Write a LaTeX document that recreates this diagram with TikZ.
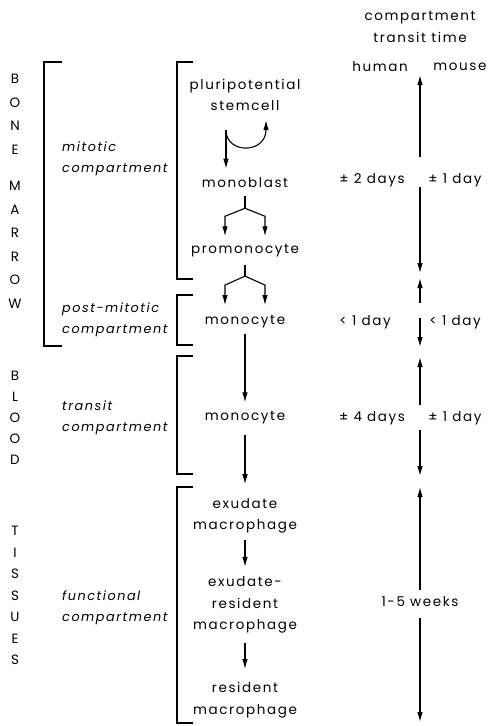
\documentclass[tikz,border=0pt]{standalone}
\usepackage{fontspec}
\setmainfont{Poppins}[LetterSpace=12]
\usetikzlibrary{arrows.meta}
\usetikzlibrary{calc}

\begin{document}
\begin{tikzpicture}[x=1pt,y=-1pt,
  every node/.style={inner sep=0pt,font=\fontsize{13.5}{21.5}\selectfont},
  cell/.style={align=center},
  comp/.style={anchor=west,align=left,font=\fontsize{12.8}{21}\selectfont\itshape},
  organ/.style={anchor=north,align=center},
  conn/.style={line width=1.1pt,-{Latex[length=10pt,width=5.5pt]}},
  stem/.style={line width=1.1pt},
  brk/.style={line width=1.4pt}]
\useasboundingbox (0,0) rectangle (491,726);

% organ columns
\node[organ,font=\fontsize{13.5}{23.5}\selectfont] (marrow) at (15,74) {B\\O\\N\\E\\[13pt]M\\A\\R\\R\\O\\W};
\node[organ,font=\fontsize{13.5}{21}\selectfont] (blood) at (15,371) {B\\L\\O\\O\\D};
\node[organ,font=\fontsize{13.5}{21.5}\selectfont] (tissues) at (15,526) {T\\I\\S\\S\\U\\E\\S};

% brackets
\draw[brk] (62,62) -- (44,62) -- (44,346) -- (62,346);
\foreach \t/\b in {62/279,295/345,356/474,487/723}
  \draw[brk] (193,\t) -- (177,\t) -- (177,\b) -- (193,\b);

% compartments
\node[comp] (mitotic) at (62,159) {mitotic\\compartment};
\node[comp] (postmit) at (62,320) {post-mitotic\\compartment};
\node[comp] (transit) at (62,418) {transit\\compartment};
\node[comp] (functional) at (62,608) {functional\\compartment};

% cells
\node[cell] (stemcell) at (245,95) {pluripotential\\stemcell};
\node[cell] (monoblast) at (245,183) {monoblast};
\node[cell] (promono) at (245,251) {promonocyte};
\node[cell] (monoA) at (245,322) {monocyte};
\node[cell] (monoB) at (245,418) {monocyte};
\node[cell] (exmac) at (245,516) {exudate\\macrophage};
\node[cell] (exresmac) at (245,605) {exudate-\\resident\\macrophage};
\node[cell] (resmac) at (245,700) {resident\\macrophage};

% self renewal
\coordinate (split) at ($(stemcell.south)+(-19,19)$);
\coordinate (renew) at ($(stemcell.south)+(21,9)$);
\draw[conn] (split) -- ($(monoblast.north)+(-19,-9)$);
\draw[conn] (split) .. controls +(0,24) and +(0,34) .. (renew);

% divisions
\coordinate (fork1) at ($(monoblast.south)+(0,20)$);
\draw[stem] ($(monoblast.south)+(0,8)$) -- (fork1);
\draw[conn] (fork1) -- ++(-20,8) -- ++(0,20);
\draw[conn] (fork1) -- ++(20,8) -- ++(0,20);
\coordinate (fork2) at ($(promono.south)+(0,18.5)$);
\draw[stem] ($(promono.south)+(0,7.5)$) -- (fork2);
\draw[conn] (fork2) -- ++(-20,9) -- ++(0,20);
\draw[conn] (fork2) -- ++(20,9) -- ++(0,20);

% maturation
\draw[conn,shorten <=5pt,shorten >=9pt] (monoA) -- (monoB);
\draw[conn,shorten <=10pt,shorten >=14pt] (monoB) -- (exmac);
\draw[conn,shorten <=6.5pt,shorten >=9.5pt] (exmac) -- (exresmac);
\draw[conn,shorten <=9pt,shorten >=13pt] (exresmac) -- (resmac);

% transit times
\node[cell] (head) at (420,27) {compartment\\transit time};
\node (human) at (380,67) {human};
\node (mouse) at (460,67) {mouse};
\node (hum1) at (372,180) {± 2 days};
\node (mou1) at (455,180) {± 1 day};
\node (hum2) at (365,322) {< 1 day};
\node (mou2) at (455,322) {< 1 day};
\node (hum3) at (372,418) {± 4 days};
\node (mou3) at (455,418) {± 1 day};
\node (weeks) at (420,602) {1-5 weeks};

\foreach \a/\b/\c/\d [count=\i] in {75/157/187/273,278/303/318/347,357/405/430/476,487/590/618/722}{
  \coordinate (up\i) at (420,\a);
  \coordinate (gapa\i) at (420,\b);
  \coordinate (gapb\i) at (420,\c);
  \coordinate (down\i) at (420,\d);
  \draw[conn] (gapa\i) -- (up\i);
  \draw[conn] (gapb\i) -- (down\i);
}
\end{tikzpicture}
\end{document}
